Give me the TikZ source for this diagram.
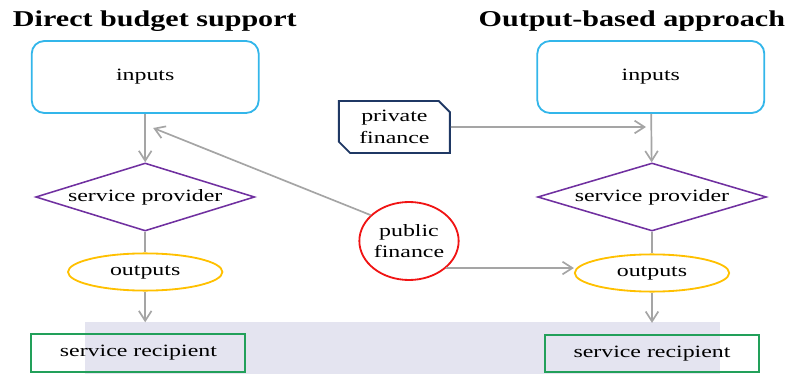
\documentclass[tikz,border=0pt]{standalone}
\usepackage{fontspec}
\setmainfont{Liberation Serif}[FakeStretch=1.38]
\newfontfamily\titlefont{Liberation Serif}[FakeStretch=1.33]
\definecolor{inblue}{RGB}{51, 182, 234}
\definecolor{provpurple}{RGB}{112, 48, 160}
\definecolor{outgold}{RGB}{255, 192, 0}
\definecolor{recgreen}{RGB}{34, 160, 90}
\definecolor{pubred}{RGB}{240, 20, 20}
\definecolor{privnavy}{RGB}{31, 56, 100}
\definecolor{flowgray}{RGB}{165, 165, 165}
\definecolor{bandlav}{RGB}{228, 228, 240}
\usetikzlibrary{shapes.geometric, shapes.misc, arrows.meta}

\begin{document}
\begin{tikzpicture}[
  every node/.style={font=\fontsize{12.3}{15.5}\selectfont, text=black},
  inbox/.style={draw=inblue, line width=1.3pt, rounded corners=9pt, minimum width=5.675cm, minimum height=1.8cm},
  provbox/.style={draw=provpurple, line width=1.1pt, diamond, aspect=3.3, inner sep=0pt, minimum height=1.7cm},
  outbox/.style={draw=outgold, line width=1.3pt, ellipse, inner sep=0pt, minimum width=3.86cm, minimum height=0.93cm},
  recbox/.style={draw=recgreen, line width=1.3pt, minimum width=5.35cm, minimum height=0.93cm},
  flow/.style={draw=flowgray, line width=1.2pt},
  arr/.style={flow, -{Straight Barb[length=7pt, width=9pt]}},
  titletext/.style={font=\titlefont\fontsize{16.1}{19}\selectfont\bfseries}
]
  \useasboundingbox (0, 0) rectangle (19.95, 9.35);

  % faint band behind the bottom row
  \fill[bandlav] (2.125, 0) rectangle (18, 1.3);

  % Titles
  \node[titletext, anchor=base west] (titleL) at (0.2, 8.675) {Direct budget support};
  \node[titletext, anchor=base east] (titleR) at (19.75, 8.675) {Output-based approach};

  % Direct budget support column
  \node[inbox] (inpL) at (3.63, 7.425) {inputs};
  \node[provbox, minimum width=5.475cm] (provL) at (3.63, 4.425) {service provider};
  \node[outbox] (outL) at (3.63, 2.55) {outputs};
  \node[recbox] (recL) at (3.46, 0.525) {service recipient};

  % Output-based approach column
  \node[inbox] (inpR) at (16.27, 7.425) {inputs};
  \node[provbox, minimum width=5.72cm] (provR) at (16.3, 4.425) {service provider};
  \node[outbox] (outR) at (16.3, 2.525) {outputs};
  \node[recbox] (recR) at (16.3, 0.51) {service recipient};

  % Finance sources
  \node[draw=privnavy, line width=1.3pt, chamfered rectangle, chamfered rectangle corners={north east, south west},
        chamfered rectangle xsep=0.14cm, chamfered rectangle ysep=0.14cm, inner sep=0pt,
        minimum width=2.775cm, minimum height=1.3cm, align=center] (priv) at (9.86, 6.175) {private\\finance};
  \node[draw=pubred, line width=1.3pt, ellipse, inner sep=0pt, minimum width=2.475cm, minimum height=1.95cm,
        align=center] (pub) at (10.225, 3.325) {public\\finance};

  \coordinate (hitL) at (3.83, 6.15);
  \coordinate (hitR) at (16.15, 6.175);

  % Flows
  \draw[arr] (inpL) -- (provL);
  \draw[flow] (provL) -- (outL);
  \draw[arr, shorten >=0.28cm] (outL) -- (outL |- recL.north);

  \draw[arr] (inpR) -- (provR);
  \draw[flow] (provR) -- (outR);
  \draw[arr, shorten >=0.28cm] (outR) -- (outR |- recR.north);

  \draw[arr] (pub.146) -- (hitL);
  \draw[arr] (priv) -- (hitR);
  \draw[arr] (pub.-36) -- (pub.-36 -| outR.west);
\end{tikzpicture}
\end{document}
